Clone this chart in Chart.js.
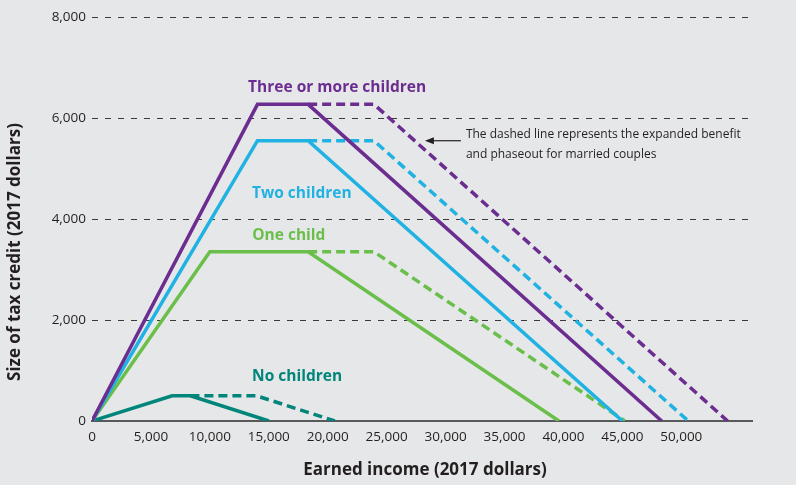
<!DOCTYPE html>
<html>
<head>
<meta charset="utf-8">
<script src="https://cdn.jsdelivr.net/npm/chart.js"></script>
<style>
  html, body { margin: 0; padding: 0; background: #e6e7e8; }
  #wrap { width: 796px; height: 485px; }
</style>
</head>
<body>
<div id="wrap"><canvas id="chart" width="796" height="485"></canvas></div>
<script>
// 2017 EITC schedule (income in dollars, credit in dollars)
const noKidsIncome = [0, 6800, 8350, 15010];
const noKidsCredit = [0, 500, 500, 0];
const noKidsMarriedIncome = [8350, 13950, 20600];
const noKidsMarriedCredit = [500, 500, 0];

const oneKidIncome = [0, 10000, 18340, 39617];
const oneKidCredit = [0, 3350, 3350, 0];
const oneKidMarriedIncome = [18340, 23930, 45207];
const oneKidMarriedCredit = [3350, 3350, 0];

const twoKidsIncome = [0, 14040, 18340, 45007];
const twoKidsCredit = [0, 5550, 5550, 0];
const twoKidsMarriedIncome = [18340, 23930, 50597];
const twoKidsMarriedCredit = [5550, 5550, 0];

const threeKidsIncome = [0, 14040, 18340, 48340];
const threeKidsCredit = [0, 6270, 6270, 0];
const threeKidsMarriedIncome = [18340, 23930, 53930];
const threeKidsMarriedCredit = [6270, 6270, 0];

const xTicks = [0, 5000, 10000, 15000, 20000, 25000, 30000, 35000, 40000, 45000, 50000];
const yTicks = [0, 2000, 4000, 6000, 8000];

const colors = {
  none: "#00857a",
  one: "#6abf4b",
  two: "#1fb2e2",
  three: "#6b2d90",
};

const FONT = "'Open Sans', sans-serif";
const TEXT = "#231f20";

function pts(xs, ys) {
  return xs.map((x, i) => ({ x: x, y: ys[i] }));
}

function line(label, xs, ys, color, dashed) {
  return {
    label: label,
    data: pts(xs, ys),
    borderColor: color,
    backgroundColor: color,
    borderWidth: 3.5,
    borderDash: dashed ? [9, 5] : [],
    pointRadius: 0,
    tension: 0,
    fill: false,
    order: dashed ? 1 : 0,
  };
}

// text labels placed in data coordinates
const seriesLabels = [
  { text: "Three or more children", x: 20800, y: 6610, color: colors.three },
  { text: "Two children", x: 17800, y: 4510, color: colors.two },
  { text: "One child", x: 16700, y: 3670, color: colors.one },
  { text: "No children", x: 17400, y: 870, color: colors.none },
];

const labelPlugin = {
  id: "labels",
  afterDatasetsDraw(chart) {
    const ctx = chart.ctx;
    const xs = chart.scales.x;
    const ys = chart.scales.y;
    ctx.save();
    ctx.textAlign = "center";
    ctx.textBaseline = "middle";
    ctx.font = "bold 15.5px " + FONT;
    seriesLabels.forEach((l) => {
      ctx.fillStyle = l.color;
      ctx.fillText(l.text, xs.getPixelForValue(l.x), ys.getPixelForValue(l.y));
    });

    // annotation with arrow
    const ax = xs.getPixelForValue(31300);
    const ay = ys.getPixelForValue(5550);
    ctx.fillStyle = TEXT;
    ctx.textAlign = "left";
    ctx.font = "12px " + FONT;
    ctx.fillText("The dashed line represents the expanded benefit", ax + 5, ay - 6);
    ctx.fillText("and phaseout for married couples", ax + 5, ay + 14);
    ctx.strokeStyle = TEXT;
    ctx.lineWidth = 1.2;
    ctx.beginPath();
    ctx.moveTo(ax, ay);
    ctx.lineTo(ax - 30, ay);
    ctx.stroke();
    ctx.beginPath();
    ctx.moveTo(ax - 36, ay);
    ctx.lineTo(ax - 27, ay - 3.5);
    ctx.lineTo(ax - 27, ay + 3.5);
    ctx.closePath();
    ctx.fill();

    // axis titles
    ctx.font = "bold 17px " + FONT;
    ctx.textAlign = "center";
    ctx.fillText("Earned income (2017 dollars)", 425, 470);
    ctx.translate(15, 252);
    ctx.rotate(-Math.PI / 2);
    ctx.fillText("Size of tax credit (2017 dollars)", 0, 0);
    ctx.restore();
  },
};

const bgPlugin = {
  id: "bg",
  beforeDraw(chart) {
    const ctx = chart.ctx;
    ctx.save();
    ctx.fillStyle = "#e6e7e8";
    ctx.fillRect(0, 0, chart.width, chart.height);
    ctx.restore();
  },
};

new Chart(document.getElementById("chart"), {
  type: "line",
  data: {
    datasets: [
      line("Three or more children", threeKidsIncome, threeKidsCredit, colors.three, false),
      line("Two children", twoKidsIncome, twoKidsCredit, colors.two, false),
      line("One child", oneKidIncome, oneKidCredit, colors.one, false),
      line("No children", noKidsIncome, noKidsCredit, colors.none, false),
      line("Three or more children (married)", threeKidsMarriedIncome, threeKidsMarriedCredit, colors.three, true),
      line("Two children (married)", twoKidsMarriedIncome, twoKidsMarriedCredit, colors.two, true),
      line("One child (married)", oneKidMarriedIncome, oneKidMarriedCredit, colors.one, true),
      line("No children (married)", noKidsMarriedIncome, noKidsMarriedCredit, colors.none, true),
    ],
  },
  options: {
    responsive: false,
    animation: false,
    layout: { padding: { top: 17, right: 44, bottom: 0, left: 0 } },
    plugins: {
      legend: { display: false },
      tooltip: { enabled: false },
    },
    scales: {
      x: {
        type: "linear",
        min: 0,
        max: 56000,
        afterBuildTicks(scale) {
          scale.ticks = xTicks.map((v) => ({ value: v }));
        },
        afterFit(scale) {
          scale.height = 64;
        },
        ticks: {
          color: TEXT,
          font: { family: FONT, size: 13.5 },
          padding: 8,
          maxRotation: 0,
          autoSkip: false,
          callback: (v) => v.toLocaleString("en-US"),
        },
        grid: { display: false, drawTicks: false },
        border: { display: true, color: "#58595b", width: 2 },
      },
      y: {
        min: 0,
        max: 8000,
        afterBuildTicks(scale) {
          scale.ticks = yTicks.map((v) => ({ value: v }));
        },
        afterFit(scale) {
          scale.width = 92;
        },
        ticks: {
          color: TEXT,
          font: { family: FONT, size: 13.5 },
          padding: 6,
          callback: (v) => v.toLocaleString("en-US"),
        },
        grid: {
          drawTicks: false,
          color: (c) => (c.tick && c.tick.value === 0 ? "rgba(0,0,0,0)" : "#3a3a3a"),
          lineWidth: 1,
        },
        border: { display: false, dash: [6, 7] },
      },
    },
  },
  plugins: [bgPlugin, labelPlugin],
});
</script>
</body>
</html>
